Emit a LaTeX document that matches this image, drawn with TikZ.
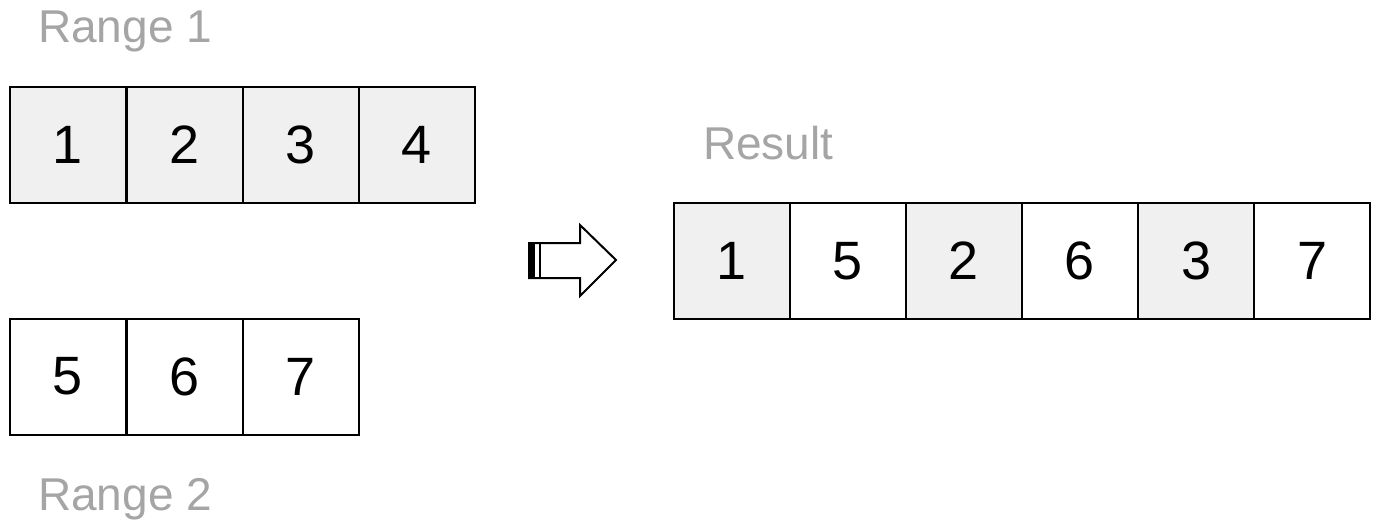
\documentclass[tikz,border=0pt]{standalone}
\usepackage{fontspec}
\setmainfont{Liberation Sans}
\definecolor{cellgray}{RGB}{240,240,240}
\definecolor{labelgray}{RGB}{165,165,165}
\begin{document}
\begin{tikzpicture}[x=1pt,y=-1pt,
  cell/.style={draw=black,line width=2pt,minimum width=116pt,minimum height=116pt,inner sep=0pt,outer sep=0pt,
    font=\fontsize{54}{60}\selectfont},
  shaded/.style={cell,fill=cellgray},
  plain/.style={cell,fill=white},
  lbl/.style={text=labelgray,font=\fontsize{46}{52}\selectfont,anchor=base west,inner sep=0pt}]
\useasboundingbox (0,0) rectangle (1378,527);
% Range 1
\node[shaded] (a1) at (68,145) {1};
\node[shaded] (a2) at (184.5,145) {2};
\node[shaded] (a3) at (301,145) {3};
\node[shaded] (a4) at (417,145) {4};
% Range 2
\node[plain] (b1) at (68,376.5) {5};
\node[plain] (b2) at (184.5,376.5) {6};
\node[plain] (b3) at (301,376.5) {7};
% Result
\node[shaded] (r1) at (732,261) {1};
\node[plain] (r2) at (848,261) {5};
\node[shaded] (r3) at (964,261) {2};
\node[plain] (r4) at (1080,261) {6};
\node[shaded] (r5) at (1196,261) {3};
\node[plain] (r6) at (1312,261) {7};
% Labels
\node[lbl] (l1) at (38,43) {Range 1};
\node[lbl] (l2) at (38,510) {Range 2};
\node[lbl] (l3) at (703,159) {Result};
% Arrow
\draw[line width=2pt,fill=white,line join=miter]
  (529,243) -- (580,243) -- (580,225) -- (616,260) -- (580,296) -- (580,278) -- (529,278) -- cycle;
\fill[black] (528,242) rectangle (535,279);
\draw[line width=2pt] (540,243) -- (540,278);
\end{tikzpicture}
\end{document}
